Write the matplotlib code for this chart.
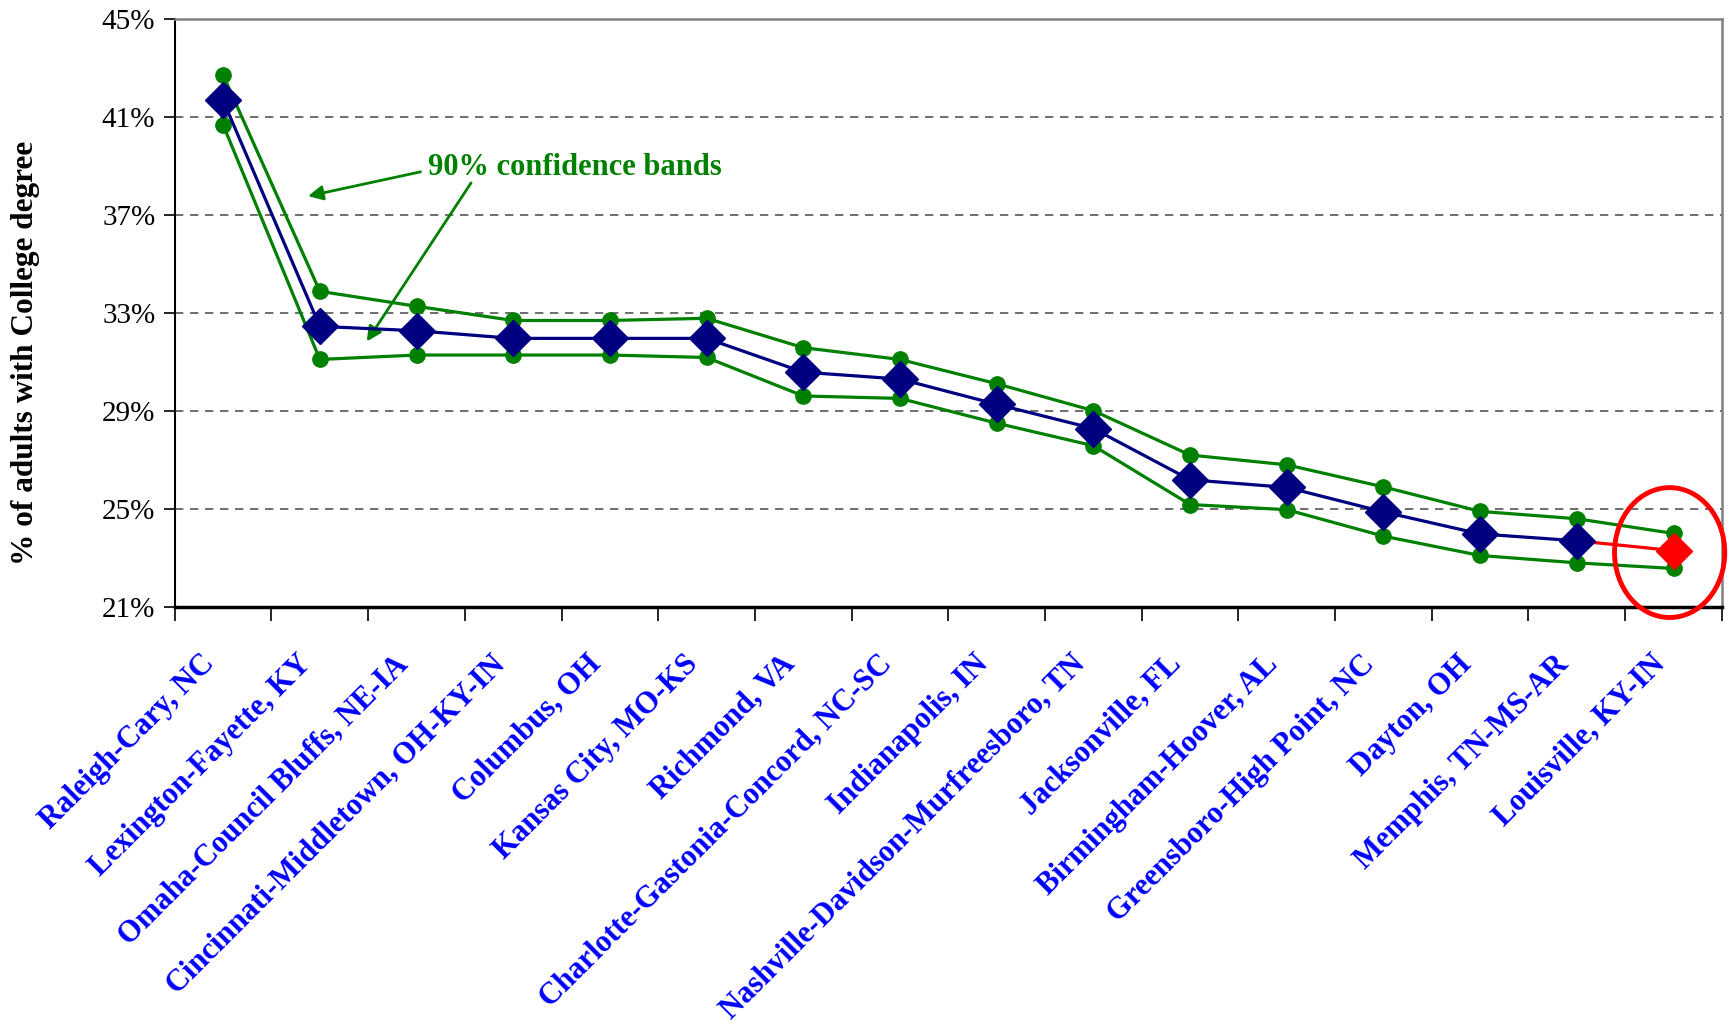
import matplotlib
matplotlib.use("Agg")
import matplotlib.pyplot as plt
from matplotlib.patches import Ellipse
from matplotlib.transforms import ScaledTranslation
from matplotlib.ticker import FixedLocator, NullFormatter, FuncFormatter

cities = ["Raleigh-Cary, NC", "Lexington-Fayette, KY", "Omaha-Council Bluffs, NE-IA",
          "Cincinnati-Middletown, OH-KY-IN", "Columbus, OH", "Kansas City, MO-KS",
          "Richmond, VA", "Charlotte-Gastonia-Concord, NC-SC", "Indianapolis, IN",
          "Nashville-Davidson-Murfreesboro, TN", "Jacksonville, FL", "Birmingham-Hoover, AL",
          "Greensboro-High Point, NC", "Dayton, OH", "Memphis, TN-MS-AR", "Louisville, KY-IN"]
estimate = [41.67, 32.45, 32.27, 31.96, 31.96, 31.96, 30.58, 30.30, 29.27, 28.28,
            26.19, 25.88, 24.88, 23.98, 23.70, 23.30]
upper = [42.70, 33.88, 33.27, 32.69, 32.69, 32.78, 31.58, 31.10, 30.11, 29.01,
         27.20, 26.80, 25.90, 24.90, 24.60, 24.00]
lower = [40.67, 31.10, 31.28, 31.28, 31.28, 31.18, 29.61, 29.51, 28.50, 27.58,
         25.18, 24.97, 23.89, 23.10, 22.80, 22.57]
yticks = [21, 25, 29, 33, 37, 41, 45]

plt.rcParams['font.family'] = ['Liberation Serif', 'DejaVu Serif']

fig = plt.figure(figsize=(17.34, 10.34), dpi=100)
ax = fig.add_axes([0.1008, 0.413, 0.8922, 0.5688])

x = list(range(len(cities)))
green = "#008000"
navy = "#000080"
red = "#FF0000"

ax.plot(x, upper, color=green, lw=2.3, marker='o', ms=11, zorder=3)
ax.plot(x, lower, color=green, lw=2.3, marker='o', ms=11, zorder=3)
ax.plot(x[:-1], estimate[:-1], color=navy, lw=2.3, marker='D', ms=18, zorder=4)
ax.plot(x[-2:], estimate[-2:], color=red, lw=2.3, zorder=3.5)
ax.plot(x[-1:], estimate[-1:], color=red, marker='D', ms=18, lw=0, zorder=5)

ax.set_xlim(-0.5, len(cities) - 0.5)
ax.set_ylim(21, 45)

ax.yaxis.set_major_locator(FixedLocator(yticks))
ax.yaxis.set_major_formatter(FuncFormatter(lambda v, p: f"{int(round(v))}%"))
ax.tick_params(axis='y', labelsize=21, length=8, width=1.2, direction='out', pad=6)

ax.set_xticks([i - 0.5 for i in range(len(cities) + 1)])
ax.xaxis.set_major_formatter(NullFormatter())
ax.tick_params(axis='x', which='major', length=10, width=1.2, direction='out')
ax.tick_params(axis='x', which='minor', length=0, pad=38)
ax.set_xticks(x, minor=True)
ax.set_xticklabels(cities, minor=True, rotation=45, ha='right', va='center',
                   rotation_mode='anchor', color='#0000FF', fontweight='bold', fontsize=22)
shift = ScaledTranslation(-0.13, 0, fig.dpi_scale_trans)
for tk in ax.xaxis.get_minor_ticks():
    tk.label1.set_transform(tk.label1.get_transform() + shift)

for yv in yticks[1:-1]:
    ax.axhline(yv, color='#555555', lw=1.2, ls=(0, (5, 4)), zorder=1)

ax.spines['left'].set_color('black')
ax.spines['left'].set_linewidth(1.5)
ax.spines['bottom'].set_color('black')
ax.spines['bottom'].set_linewidth(2.5)
ax.spines['top'].set_color('#808080')
ax.spines['top'].set_linewidth(1.8)
ax.spines['right'].set_color('#808080')
ax.spines['right'].set_linewidth(1.8)

ax.set_ylabel("% of adults with College degree", fontsize=22.5, fontweight='bold')
ax.yaxis.set_label_coords(-0.087, 0.432)

ax.text(2.12, 38.95, "90% confidence bands", color=green, fontsize=22, fontweight='bold',
        ha='left', va='center')
ax.annotate("", xy=(0.85, 37.74), xytext=(2.07, 38.78),
            arrowprops=dict(arrowstyle='-|>', color=green, lw=2, mutation_scale=22))
ax.annotate("", xy=(1.47, 31.74), xytext=(2.58, 38.40),
            arrowprops=dict(arrowstyle='-|>', color=green, lw=2, mutation_scale=22))

ell = Ellipse((14.96, 23.22), width=1.14, height=5.3, fill=False, edgecolor=red, lw=3.5,
              clip_on=False, zorder=6)
ax.add_patch(ell)

fig.savefig("out.png", dpi=100)
